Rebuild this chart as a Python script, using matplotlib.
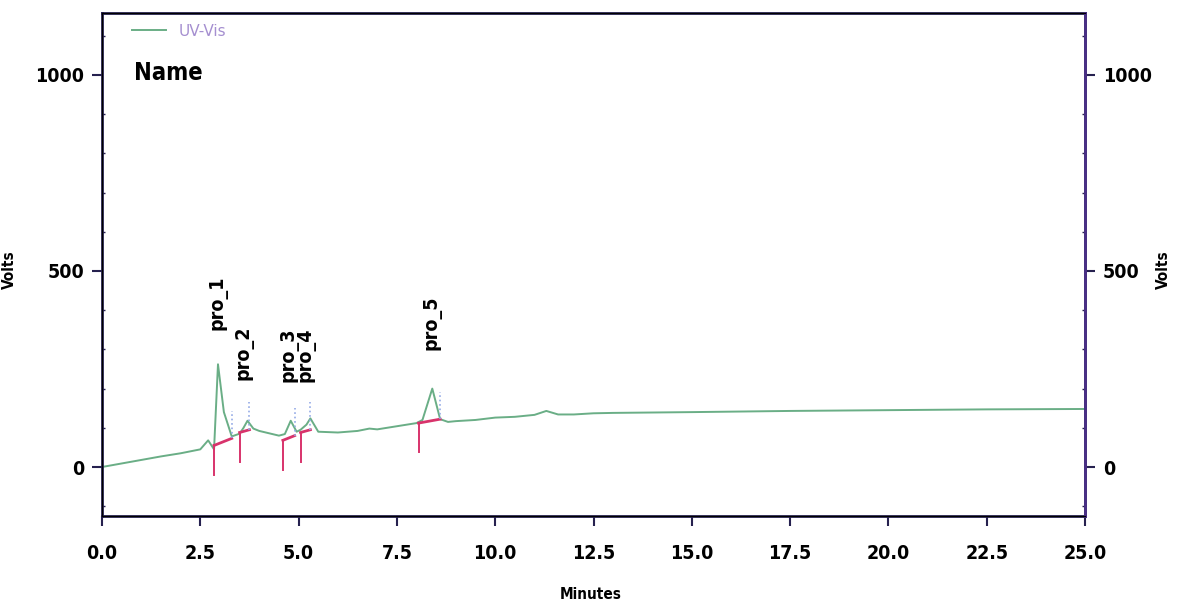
import numpy as np
import matplotlib.pyplot as plt
from matplotlib.ticker import MultipleLocator

# UV-Vis trace
minutes = [0.0, 0.5, 1.0, 1.5, 2.0, 2.5, 2.7, 2.85, 2.95, 3.1, 3.3, 3.5, 3.6, 3.7, 3.85,
           4.0, 4.5, 4.65, 4.8, 4.95, 5.05, 5.2, 5.3, 5.5, 6.0, 6.5, 6.8, 7.0, 7.5,
           8.0, 8.15, 8.4, 8.6, 8.8, 9.0, 9.5, 10.0, 10.5, 11.0, 11.3, 11.6, 12.0,
           12.5, 13.0, 15.0, 17.5, 20.0, 22.5, 25.0]
volts = [0, 9, 18, 27, 35, 45, 68, 45, 262, 140, 78, 85, 100, 118, 98,
         92, 80, 84, 118, 90, 95, 108, 124, 90, 88, 92, 98, 96, 104,
         112, 120, 200, 122, 115, 117, 120, 126, 128, 133, 143, 134, 134,
         137, 138, 140, 143, 145, 147, 148]

# peaks: label, start, end, baseline levels, label position
peak_names = ['pro_1', 'pro_2', 'pro_3', 'pro_4', 'pro_5']
peak_start = [2.85, 3.5, 4.6, 5.05, 8.05]
peak_end = [3.3, 3.75, 4.9, 5.3, 8.6]
base_start = [55, 88, 68, 88, 112]
base_end = [73, 95, 80, 95, 122]
label_x = [2.95, 3.6, 4.75, 5.2, 8.4]
label_y = [350, 222, 217, 217, 298]

FONT = dict(family='DejaVu Sans', fontweight='bold', fontstretch='condensed')

fig = plt.figure(figsize=(11.79, 6.07), dpi=100)
ax = fig.add_axes([0.0865, 0.1499, 0.8338, 0.8287])

line_col = '#6aae86'
red = '#d8336b'
blue = '#93a9e6'
spine_col = '#26214f'

ax.plot(minutes, volts, color=line_col, lw=1.4, label='UV-Vis')
ax.plot([0, 0], [820, 1160], color='#9fd4c6', lw=1.5)

for i in range(len(peak_names)):
    ax.plot([peak_start[i], peak_end[i]], [base_start[i], base_end[i]], color=red, lw=2)
    ax.plot([peak_start[i], peak_start[i]], [base_start[i], base_start[i] - 75], color=red, lw=1.4)
    ax.plot([peak_end[i], peak_end[i]], [base_end[i], base_end[i] + 70], color=blue, lw=1.2, ls=':')
    ax.text(label_x[i], label_y[i], peak_names[i], rotation=90, ha='center', va='bottom',
            fontsize=14, **FONT)

ax.set_xlim(0, 25)
ax.set_ylim(-125, 1158)
ax.set_xticks(np.arange(0, 25.1, 2.5))
ax.set_xticklabels([f'{v:.1f}' for v in np.arange(0, 25.1, 2.5)])
ax.set_yticks([0, 500, 1000])
ax.yaxis.set_minor_locator(MultipleLocator(100))

for s in ax.spines.values():
    s.set_color(spine_col)
    s.set_linewidth(2)

for lab in ax.get_xticklabels() + ax.get_yticklabels():
    lab.set_fontsize(14)
    lab.set_fontweight('bold')
    lab.set_fontstretch('condensed')
ax.tick_params(axis='both', which='major', length=7, width=1.5, color=spine_col, pad=6)
ax.tick_params(axis='x', pad=13)
ax.tick_params(axis='y', which='minor', length=2, width=1, color=spine_col, direction='in')

ax2 = ax.twinx()
ax2.set_ylim(ax.get_ylim())
ax2.set_yticks([0, 500, 1000])
ax2.yaxis.set_minor_locator(MultipleLocator(100))
for lab in ax2.get_yticklabels():
    lab.set_fontsize(14)
    lab.set_fontweight('bold')
    lab.set_fontstretch('condensed')
ax2.tick_params(axis='y', which='major', length=7, width=1.5, color=spine_col, pad=6)
ax2.tick_params(axis='y', which='minor', length=2, width=1, color=spine_col, direction='in')
ax2.spines['right'].set_color('#4a2f86')
ax2.spines['right'].set_linewidth(2)

ax.set_xlabel('Minutes', fontsize=11, **FONT)
ax.xaxis.set_label_coords(0.497, -0.141)
ax.set_ylabel('Volts', fontsize=11, **FONT)
ax.yaxis.set_label_coords(-0.087, 0.49)
ax2.set_ylabel('Volts', fontsize=11, **FONT)
ax2.yaxis.set_label_coords(1.072, 0.49)

leg = ax.legend(loc='upper left', frameon=False, fontsize=11, handlelength=2.2,
                bbox_to_anchor=(0.02, 1.0), borderaxespad=0.3)
for t in leg.get_texts():
    t.set_color('#a58fd0')
ax.text(0.033, 0.88, 'Name', transform=ax.transAxes, fontsize=17, va='center', **FONT)

fig.savefig('out.png', dpi=100)
